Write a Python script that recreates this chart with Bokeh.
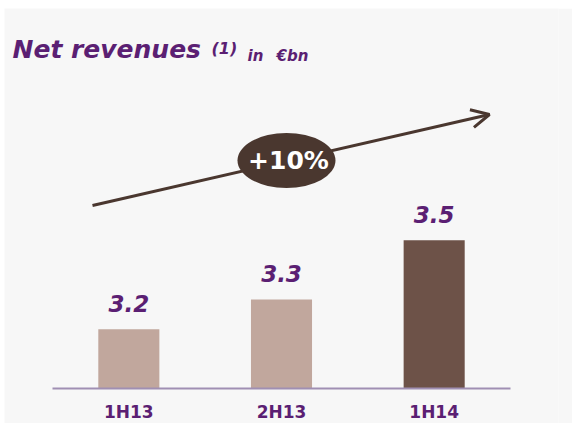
from bokeh.plotting import figure
from bokeh.models import Range1d, FactorRange, Label, Arrow, OpenHead, ColumnDataSource
from bokeh.core.properties import value
from bokeh.embed import file_html
from bokeh.resources import INLINE

# ---- data ----
periods = ["1H13", "2H13", "1H14"]
revenues = [3.2, 3.3, 3.5]
value_labels = ["3.2", "3.3", "3.5"]
bar_colors = ["#c1a79d", "#c1a79d", "#6d5248"]
growth_label = "+10%"
title_main = "Net revenues"
title_note = "(1)"
title_unit_in = "in"
title_unit_cur = "€bn"
axis_base = 3.0

PURPLE = "#5b1f73"
BROWN = "#4a372f"
BG = "#f7f7f7"

# ---- layout (page pixels) ----
OX, OY = 4, 8            # canvas offset on page
W, H = 572 - OX, 423 - OY
SLOT = 152.67            # px per category
PAD = 48                 # px left of first category
FR = 14                  # right border
PX_PER_UNIT = 296.7
BASE_PY = 388            # page y of baseline
BASELINE_FIX = 0.42      # alphabetic-baseline shift, in em

y_start = axis_base - (OY + H - BASE_PY) / PX_PER_UNIT
y_end = axis_base + (BASE_PY - OY) / PX_PER_UNIT


def dx(px):
    return (px - OX - PAD) / SLOT


def dy(py):
    return axis_base + (BASE_PY - py) / PX_PER_UNIT


xr = FactorRange(*periods, range_padding=PAD / SLOT,
                 range_padding_units="absolute")
p = figure(x_range=xr, y_range=Range1d(y_start, y_end),
           width=W, height=H, output_backend="svg", toolbar_location=None,
           x_axis_location=None, y_axis_location=None,
           min_border_left=0, min_border_right=FR, min_border_top=0,
           min_border_bottom=0, margin=(OY, 0, 0, OX))
p.background_fill_color = BG
p.border_fill_color = BG
p.outline_line_color = None
p.xgrid.visible = False
p.ygrid.visible = False

src = ColumnDataSource(dict(period=periods, revenue=revenues,
                            label=value_labels, color=bar_colors))
p.vbar(x="period", top="revenue", bottom=axis_base, width=0.4, source=src,
       fill_color="color", line_color=None)

# baseline across the category slots
p.segment(x0=[0], y0=[axis_base], x1=[len(periods)], y1=[axis_base],
          line_color="#a08fb3", line_width=2)

# value labels
p.text(x="period", y="revenue", text="label", source=src,
       text_align="center", text_baseline="alphabetic",
       y_offset=-16 - BASELINE_FIX * 23,
       text_font=value("DejaVu Sans"), text_font_style="bold italic",
       text_font_size="23px", text_color=PURPLE)

# category labels
p.text(x="period", y=axis_base, text="period", source=src,
       text_align="center", text_baseline="alphabetic",
       y_offset=31 - BASELINE_FIX * 17,
       text_font=value("DejaVu Sans"), text_font_style="bold",
       text_font_size="17px", text_color=PURPLE)

arrow = Arrow(x_start=dx(92), y_start=dy(205), x_end=dx(489), y_end=dy(114),
              line_color=BROWN, line_width=3,
              end=OpenHead(size=18, line_color=BROWN, line_width=3),
              level="underlay")
p.add_layout(arrow)

p.ellipse(x=[dx(286)], y=[dy(160)], width=98, height=55,
          width_units="screen", height_units="screen",
          fill_color=BROWN, line_color=None)
p.text(x=[dx(288)], y=[dy(160)], text=[growth_label], text_align="center",
       text_baseline="middle", text_font=value("DejaVu Sans"),
       text_font_style="bold", text_font_size="25px", text_color="white")


def add_label(txt, px, py, size):
    p.add_layout(Label(x=dx(px), y=dy(py - BASELINE_FIX * size), text=txt,
                       text_font="DejaVu Sans",
                       text_font_style="bold italic",
                       text_font_size=f"{size}px",
                       text_color=PURPLE, text_baseline="alphabetic"))


add_label(title_main, 12, 59, 25)
add_label(title_note, 211, 55, 16)
add_label(title_unit_in, 247, 62, 15)
add_label(title_unit_cur, 276, 62, 15)

open("out.html", "w").write(file_html(p, INLINE))
